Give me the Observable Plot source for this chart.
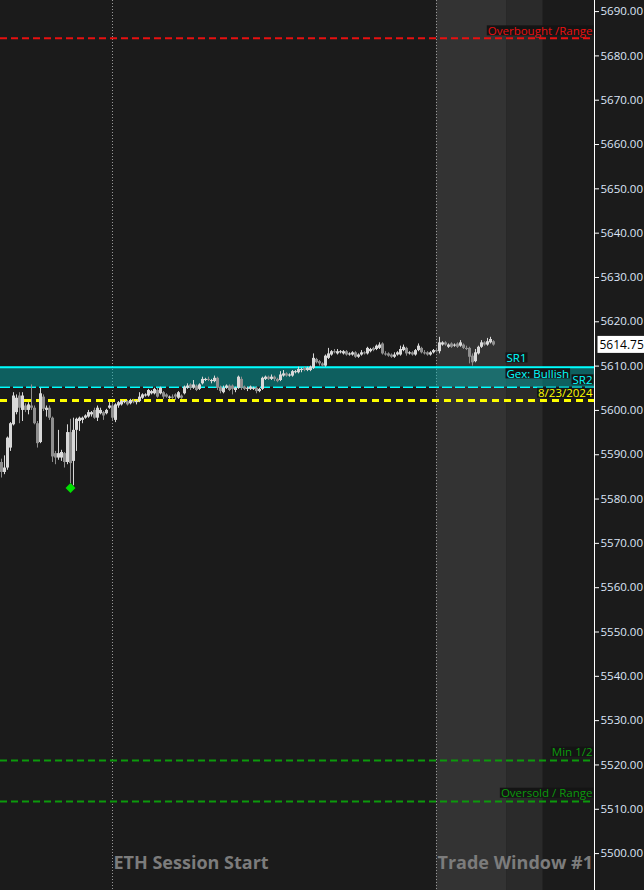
<!DOCTYPE html>
<html>
<head>
<meta charset="utf-8">
<script src="https://cdn.jsdelivr.net/npm/d3@7"></script>
<script src="https://cdn.jsdelivr.net/npm/@observablehq/plot@0.6"></script>
<style>
  html, body { margin: 0; padding: 0; background: #1b1b1b; overflow: hidden; }
  #chart svg { display: block; }
</style>
</head>
<body>
<div id="chart"></div>
<script>
// ES price bars: [open, high, low, close], one per bar, oldest first
const bars = [
  [5588.25,5589.0,5584.75,5586.0],[5586.0,5589.75,5585.5,5587.0],[5587.0,5594.0,5586.5,5593.75],
  [5591.5,5597.25,5590.75,5597.0],[5596.75,5604.0,5596.5,5603.25],[5599.5,5603.5,5599.0,5602.75],
  [5603.25,5604.0,5597.0,5600.5],[5600.0,5604.0,5597.5,5603.25],[5601.0,5601.5,5599.5,5600.0],
  [5600.0,5601.75,5599.0,5601.25],[5601.0,5605.75,5600.0,5600.5],[5600.5,5601.0,5596.75,5597.0],
  [5597.0,5597.5,5591.5,5592.5],[5592.75,5605.0,5592.5,5603.75],[5603.0,5603.5,5599.75,5600.25],
  [5600.0,5601.0,5598.5,5600.5],[5600.5,5601.0,5597.75,5598.25],[5598.25,5598.5,5588.25,5589.5],
  [5590.25,5590.75,5587.75,5589.25],[5589.25,5595.5,5588.75,5590.25],[5589.25,5591.0,5588.5,5590.5],
  [5590.25,5590.5,5587.0,5588.25],[5588.25,5596.75,5587.75,5595.0],[5595.0,5598.0,5583.5,5588.0],
  [5588.5,5598.25,5583.0,5595.5],[5595.5,5598.25,5590.75,5598.0],[5597.5,5598.5,5595.25,5598.25],
  [5597.75,5598.5,5597.0,5598.25],[5598.25,5599.0,5598.0,5598.75],[5598.5,5600.0,5598.25,5599.5],
  [5599.0,5599.75,5598.5,5599.5],[5600.0,5600.5,5598.0,5598.25],[5598.25,5601.0,5597.5,5600.5],
  [5599.25,5600.5,5599.0,5600.0],[5599.5,5599.75,5597.75,5598.75],[5599.25,5600.25,5599.0,5600.0],
  [5600.5,5601.75,5600.25,5601.0],[5601.0,5601.5,5597.75,5598.25],[5597.75,5601.5,5597.25,5601.25],
  [5601.0,5602.0,5600.5,5601.75],[5601.25,5602.25,5601.0,5602.0],[5601.75,5602.25,5601.5,5602.0],
  [5602.0,5602.25,5601.0,5601.25],[5601.5,5602.5,5601.25,5602.25],[5602.0,5602.5,5601.5,5601.75],
  [5601.75,5602.25,5601.25,5602.0],[5602.0,5604.0,5601.75,5603.0],[5602.75,5603.75,5602.5,5603.5],
  [5603.25,5603.75,5603.0,5603.5],[5603.25,5604.75,5603.0,5604.5],[5603.75,5604.5,5603.5,5604.25],
  [5603.75,5605.0,5603.5,5604.75],[5604.5,5605.0,5602.75,5603.0],[5603.75,5605.25,5603.5,5605.0],
  [5604.0,5604.25,5602.5,5603.0],[5603.5,5603.75,5602.75,5603.0],[5602.75,5603.25,5602.5,5603.0],
  [5603.0,5603.5,5602.5,5602.75],[5603.5,5603.75,5602.25,5603.0],[5602.75,5604.25,5602.5,5604.0],
  [5603.25,5603.5,5602.5,5602.75],[5603.75,5605.5,5603.5,5605.25],[5605.0,5606.0,5604.75,5605.5],
  [5605.75,5606.0,5604.5,5605.0],[5605.0,5606.75,5604.75,5605.75],[5605.5,5605.75,5604.25,5604.5],
  [5604.75,5606.0,5604.5,5605.75],[5606.0,5607.5,5605.75,5607.0],[5606.75,5607.25,5606.5,5607.0],
  [5607.0,5607.5,5606.5,5606.75],[5606.5,5607.0,5606.0,5606.75],[5606.5,5607.75,5606.25,5607.25],
  [5607.25,5607.5,5604.5,5605.0],[5605.25,5605.5,5603.75,5604.25],[5604.0,5605.5,5603.75,5605.0],
  [5605.0,5605.75,5604.75,5605.5],[5605.5,5605.75,5604.25,5604.5],[5605.5,5605.75,5603.5,5604.75],
  [5604.5,5605.25,5604.0,5605.0],[5605.0,5607.75,5604.75,5607.5],[5607.0,5607.5,5604.5,5605.0],
  [5605.25,5605.5,5604.5,5604.75],[5604.75,5605.25,5604.25,5605.0],[5604.75,5605.5,5604.5,5605.25],
  [5604.75,5605.25,5604.5,5605.0],[5605.0,5605.25,5603.75,5604.25],[5604.25,5605.0,5604.0,5604.75],
  [5604.75,5607.5,5604.5,5607.25],[5607.0,5607.75,5606.75,5607.5],[5607.5,5607.75,5606.75,5607.0],
  [5607.0,5608.0,5606.75,5607.5],[5607.5,5607.75,5606.5,5607.0],[5607.0,5607.25,5606.25,5606.5],
  [5606.75,5608.75,5606.5,5608.0],[5607.75,5609.0,5607.5,5608.25],[5608.25,5608.5,5607.5,5607.75],
  [5607.75,5608.25,5607.5,5608.0],[5607.75,5609.0,5607.5,5608.75],[5608.5,5609.0,5608.25,5608.75],
  [5608.5,5609.75,5608.25,5609.25],[5609.0,5609.5,5608.5,5609.25],[5609.5,5609.75,5608.75,5609.0],
  [5609.0,5609.75,5608.75,5609.5],[5609.0,5610.0,5608.75,5609.75],[5609.5,5612.75,5609.25,5611.75],
  [5611.5,5611.75,5610.5,5610.75],[5611.0,5611.25,5610.0,5610.5],[5610.5,5610.75,5609.75,5610.0],
  [5610.0,5612.5,5609.75,5612.25],[5611.75,5614.0,5611.5,5612.75],[5612.5,5613.5,5612.25,5613.25],
  [5613.25,5613.75,5612.75,5613.0],[5612.75,5613.75,5612.5,5613.25],[5613.0,5613.5,5612.75,5613.25],
  [5612.75,5613.5,5612.5,5613.25],[5613.25,5613.5,5612.25,5612.5],[5612.5,5613.0,5612.25,5612.75],
  [5612.5,5613.25,5612.25,5613.0],[5613.0,5613.25,5611.75,5612.0],[5612.0,5612.75,5611.75,5612.5],
  [5612.5,5613.5,5612.25,5613.0],[5613.0,5613.25,5612.5,5612.75],[5612.75,5614.25,5612.5,5614.0],
  [5613.25,5614.0,5613.0,5613.75],[5614.0,5614.25,5613.25,5613.5],[5613.75,5614.75,5613.5,5614.5],
  [5614.0,5615.25,5613.75,5614.75],[5615.0,5615.25,5612.5,5612.75],[5612.75,5613.25,5612.25,5612.5],
  [5612.75,5613.0,5612.0,5612.25],[5612.5,5612.75,5611.75,5612.0],[5612.0,5613.0,5611.75,5612.5],
  [5612.5,5613.25,5612.25,5613.0],[5612.5,5614.5,5612.25,5613.75],[5613.5,5614.75,5613.25,5614.25],
  [5614.0,5614.25,5612.25,5612.75],[5612.75,5613.25,5612.5,5613.0],[5613.0,5613.25,5612.25,5612.5],
  [5612.5,5613.75,5612.25,5613.5],[5613.5,5615.0,5613.25,5614.5],[5614.0,5614.25,5612.75,5613.0],
  [5613.0,5613.5,5612.5,5612.75],[5613.0,5613.25,5612.25,5612.5],[5612.5,5613.25,5612.25,5613.0],
  [5613.0,5613.75,5612.75,5613.5],[5613.5,5614.0,5613.0,5613.25],[5613.25,5616.5,5612.75,5615.25],
  [5614.75,5615.5,5614.5,5615.25],[5615.25,5615.5,5614.5,5614.75],[5614.25,5615.0,5614.0,5614.75],
  [5615.0,5615.25,5614.0,5614.25],[5614.5,5615.0,5614.25,5614.75],[5615.0,5615.25,5614.0,5614.25],
  [5614.5,5615.75,5614.25,5615.25],[5614.75,5615.0,5613.75,5614.0],[5614.0,5614.5,5613.5,5613.75],
  [5614.0,5614.25,5610.5,5612.0],[5612.25,5612.75,5610.0,5610.75],[5611.0,5613.75,5610.75,5613.0],
  [5612.75,5614.5,5612.5,5614.25],[5614.25,5615.75,5614.0,5615.25],[5615.25,5615.5,5614.5,5614.75],
  [5614.75,5616.25,5614.5,5615.5],[5615.25,5616.5,5615.0,5616.0],[5615.5,5615.75,5614.5,5614.75]
];

// Horizontal levels
const overbought = 5684.0;
const sr1 = 5609.75;
const sr2 = 5605.25;
const priorDate = 5602.25;
const minHalf = 5521.0;
const oversold = 5511.75;
const lastPrice = 5614.75;

// Level label texts
const levelText = {
  overbought: "Overbought /Range",
  sr1: "SR1",
  gex: "Gex: Bullish",
  sr2: "SR2",
  priorDate: "8/23/2024",
  minHalf: "Min 1/2",
  oversold: "Oversold / Range"
};

// Marker below the session low
const lowMarker = [{bar: 23, price: 5582.5}];

// Session markers (bar numbers) and the trade-window shading (bar bounds)
const sessionBars = [37, 145];
const sessionLabels = ["ETH Session Start", "Trade Window #1"];
const tradeWindow = [145, 168.5, 180.5];

// Price axis ticks
const yTicks = [5500,5510,5520,5530,5540,5550,5560,5570,5580,5590,
                5600,5610,5620,5630,5640,5650,5660,5670,5680,5690];

const candles = bars.map(([o, h, l, c], i) => ({i, o, h, l, c, up: c >= o}));
const upBars = candles.filter(d => d.up);
const downBars = candles.filter(d => !d.up);

const UP = "#d9d9d9", DOWN = "#8f8f8f";
const FONT = "'Open Sans', 'Noto Sans', sans-serif";

const sessions = sessionBars.map((bar, k) => ({bar, label: sessionLabels[k]}));

function levelLabel(value, text, color, anchor, dx, dy) {
  return Plot.text([value], {
    y: d => d, text: () => text, frameAnchor: "right",
    textAnchor: anchor, dx, dy, fill: color, fontSize: 11.5
  });
}

const chart = Plot.plot({
  width: 644,
  height: 890,
  marginLeft: 0,
  marginRight: 50,
  marginTop: 0,
  marginBottom: 0,
  style: {background: "#1b1b1b", color: "#dde6f7", fontFamily: FONT, fontSize: "11.5px"},
  x: {domain: [-1 / 3, 197.667], axis: null},
  y: {domain: [5491.67, 5692.5], axis: null},
  marks: [
    // trade window shading
    Plot.rect([{x1: tradeWindow[0], x2: tradeWindow[1]}], {x1: "x1", x2: "x2", fill: "#333333"}),
    Plot.rect([{x1: tradeWindow[1], x2: tradeWindow[2]}], {x1: "x1", x2: "x2", fill: "#2a2a2a"}),
    // session separators
    Plot.ruleX(sessions, {x: "bar", stroke: "#9a9a9a", strokeWidth: 1, strokeDasharray: "1,2"}),
    // SR zone
    Plot.rect([{y1: sr2, y2: sr1}], {y1: "y1", y2: "y2", fill: "#00b4b4", fillOpacity: 0.45}),
    Plot.ruleY([sr1], {stroke: "#00ffff", strokeWidth: 2}),
    Plot.ruleY([sr2], {stroke: "#00ffff", strokeWidth: 1.5, strokeDasharray: "10,3"}),
    Plot.ruleY([priorDate], {stroke: "#ffff00", strokeWidth: 3, strokeDasharray: "7,5"}),
    Plot.ruleY([overbought], {stroke: "#e81010", strokeWidth: 2, strokeDasharray: "7,4"}),
    Plot.ruleY([minHalf], {stroke: "#0c9a0c", strokeWidth: 2, strokeDasharray: "7,4"}),
    Plot.ruleY([oversold], {stroke: "#0c9a0c", strokeWidth: 2, strokeDasharray: "7,4"}),
    // candles
    Plot.ruleX(downBars, {x: "i", y1: "l", y2: "h", stroke: DOWN, strokeWidth: 1}),
    Plot.ruleX(downBars, {x: "i", y1: "o", y2: "c", stroke: DOWN, strokeWidth: 3}),
    Plot.ruleX(upBars, {x: "i", y1: "l", y2: "h", stroke: UP, strokeWidth: 1}),
    Plot.ruleX(upBars, {x: "i", y1: "o", y2: "c", stroke: UP, strokeWidth: 3}),
    Plot.dot(lowMarker, {x: "bar", y: "price", symbol: "diamond2", r: 3.5, fill: "#00e000", stroke: "#00e000"}),
    // price axis
    Plot.frame({anchor: "right", stroke: "#ffffff"}),
    Plot.axisY(yTicks, {anchor: "right", tickSize: 4, tickPadding: 2, tickFormat: d => d.toFixed(2), stroke: "#ffffff", fill: "#dde6f7"}),
    // level labels
    levelLabel(overbought, levelText.overbought, "#e81010", "end", -2, -7),
    levelLabel(sr1, levelText.sr1, "#00ffff", "start", -88, -9),
    levelLabel(sr1, levelText.gex, "#00ffff", "start", -88, 7),
    levelLabel(sr2, levelText.sr2, "#00ffff", "end", -2, -7),
    levelLabel(priorDate, levelText.priorDate, "#ffff00", "end", -2, -7),
    levelLabel(minHalf, levelText.minHalf, "#0c9a0c", "end", -2, -8),
    levelLabel(oversold, levelText.oversold, "#0c9a0c", "end", -2, -8),
    // last price tag
    Plot.text([lastPrice], {y: d => d, text: d => d.toFixed(2), frameAnchor: "right", textAnchor: "start", dx: 5, fill: "#000000", fontSize: 12}),
    // session names along the bottom
    Plot.text(sessions, {x: "bar", text: "label", frameAnchor: "bottom", textAnchor: "start", dx: 1, dy: -22, fill: "#7c7c7c", fontSize: 18, fontWeight: "bold"})
  ]
});

document.getElementById("chart").appendChild(chart);

// Put a solid backdrop behind each level label and the last-price tag
function backdrop(texts, fill, padX, padY) {
  chart.querySelectorAll("text").forEach(t => {
    if (!texts.includes(t.textContent)) return;
    const b = t.getBBox();
    const r = document.createElementNS("http://www.w3.org/2000/svg", "rect");
    r.setAttribute("x", b.x - padX);
    r.setAttribute("y", b.y - padY);
    r.setAttribute("width", b.width + 2 * padX);
    r.setAttribute("height", Math.max(0, b.height + 2 * padY));
    r.setAttribute("fill", fill);
    const tr = t.getAttribute("transform");
    if (tr) r.setAttribute("transform", tr);
    t.parentNode.insertBefore(r, t);
  });
}
backdrop(Object.values(levelText), "#141414", 1, -2.5);
backdrop([lastPrice.toFixed(2)], "#ffffff", 2, 0);
</script>
</body>
</html>
